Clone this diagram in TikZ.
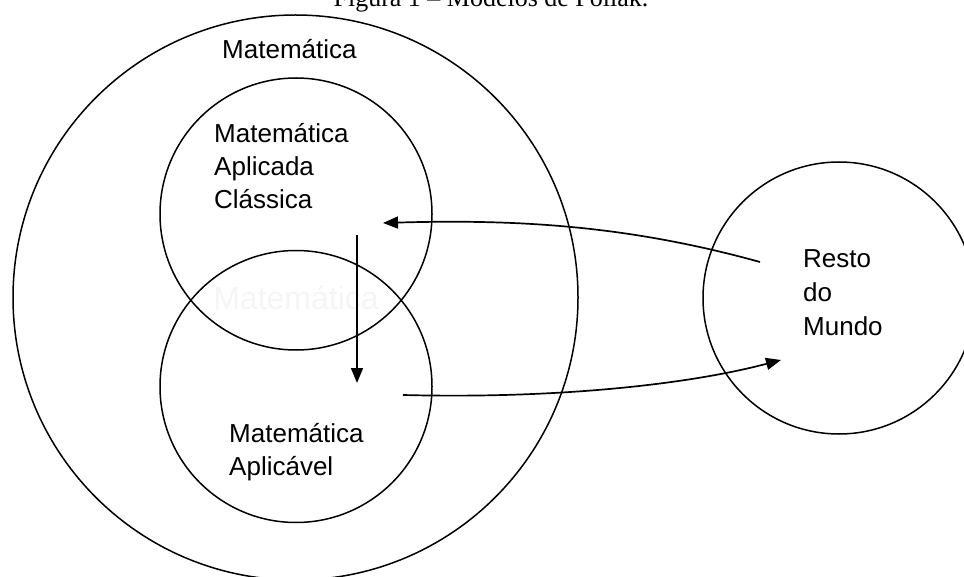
\documentclass[tikz,border=0pt]{standalone}
\usepackage{fontspec}
\setmainfont{Liberation Sans}
\newfontfamily\captionserif{Liberation Serif}
\usetikzlibrary{arrows.meta,shapes.geometric}
\begin{document}
\begin{tikzpicture}[x=1pt,y=-1pt,
  ring/.style={draw,circle,line width=1.5pt,inner sep=0pt},
  lbl/.style={anchor=base west,inner sep=0pt,font=\fontsize{26}{33}\selectfont},
  conn/.style={line width=1.7pt,-{Triangle[length=15pt,width=12pt]}}]
\path[use as bounding box] (0,0) rectangle (964,577);
\begin{scope}
\clip (0,0) rectangle (964,577);
\node[anchor=base,inner sep=0pt,font=\captionserif\fontsize{26}{30}\selectfont] (title) at (491,7) {Figura 1 – Modelos de Pollak.};
\node[ring,minimum size=565pt] (mat) at (295.5,297.5) {};
\node[ring,minimum size=272pt] (mac) at (296,214) {};
\node[ring,minimum size=272pt] (mav) at (296,386.5) {};
\node[ring,minimum size=272pt] (rm) at (839,298) {};
\node[inner sep=0pt,text=black!4,font=\fontsize{32}{36}\selectfont] (ghost) at (296,298) {Matemática};
\end{scope}
\node[lbl] (t1) at (222,59) {Matemática};
\node[lbl] (t2) at (214,143) {Matemática};
\node[lbl] (t3) at (214,176) {Aplicada};
\node[lbl] (t4) at (214,209) {Clássica};
\node[lbl] (t5) at (229,442) {Matemática};
\node[lbl] (t6) at (229,475) {Aplicável};
\node[lbl] (t7) at (803,268) {Resto};
\node[lbl] (t8) at (803,301.5) {do};
\node[lbl] (t9) at (803,335) {Mundo};
\coordinate (a1s) at (760,262);
\coordinate (a1e) at (383,223);
\coordinate (a2s) at (357,235);
\coordinate (a2e) at (357,383);
\coordinate (a3s) at (403,395);
\coordinate (a3e) at (781,360);
\draw[conn] (a1s) .. controls (630,226) and (520,219) .. (a1e);
\draw[conn] (a2s) -- (a2e);
\draw[conn] (a3s) .. controls (560,399) and (690,384) .. (a3e);
\end{tikzpicture}
\end{document}
